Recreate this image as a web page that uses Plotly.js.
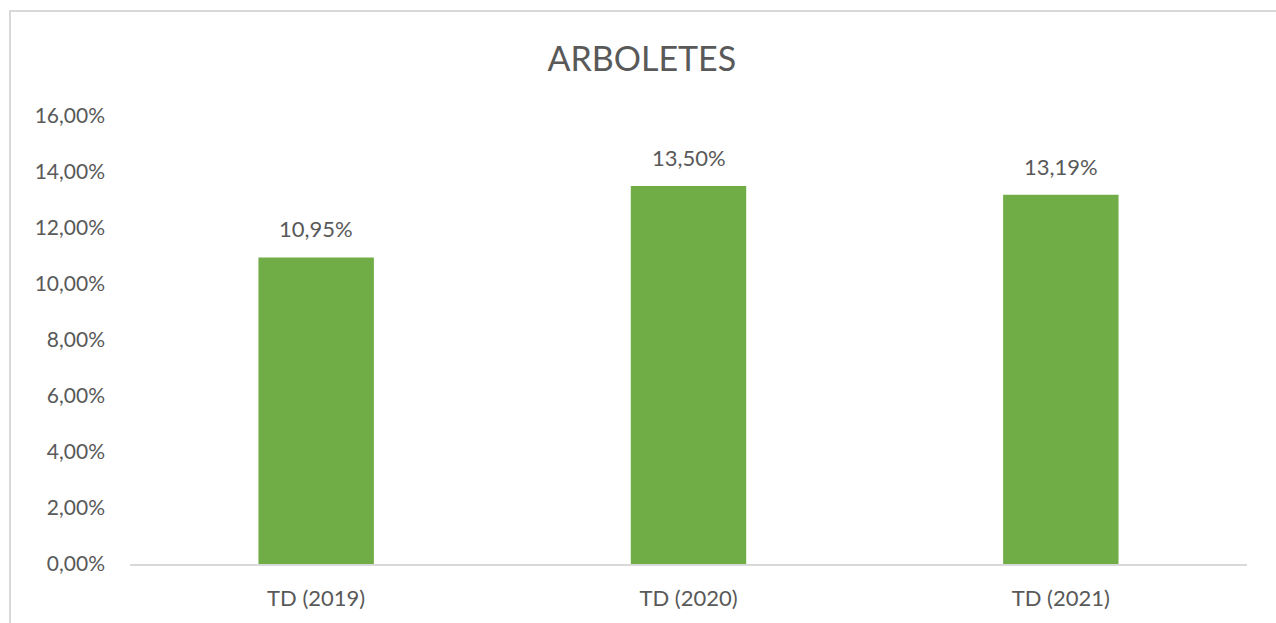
<!DOCTYPE html>
<html>
<head>
<meta charset="utf-8">
<script src="https://cdn.plot.ly/plotly-3.0.1.min.js"></script>
<style>
  html, body { margin: 0; padding: 0; background: #fff; }
  #wrap { position: relative; width: 1276px; height: 623px; overflow: hidden; }
  #chart { position: absolute; left: 0; top: 0; width: 1276px; height: 623px; }
  #frame { position: absolute; left: 9px; top: 10px; width: 1280px; height: 640px;
           border-top: 2px solid #d9d9d9; border-left: 2px solid #d9d9d9; pointer-events: none; }
</style>
</head>
<body>
<div id="wrap">
  <div id="chart"></div>
  <div id="frame"></div>
</div>
<script>
const chartTitle = "ARBOLETES";
const categories = ["TD (2019)", "TD (2020)", "TD (2021)"];
const values = [0.1095, 0.1350, 0.1319];
const yTickValues = [0, 0.02, 0.04, 0.06, 0.08, 0.10, 0.12, 0.14, 0.16];

const FONT = "Lato, 'Open Sans', 'DejaVu Sans', sans-serif";
const TEXT = "#595959";

const trace = {
  type: "bar",
  x: categories,
  y: values,
  marker: { color: "#70AD47" },
  width: 0.31,
  hoverinfo: "skip"
};

function fmtPct(v) {
  return (v * 100).toFixed(2).replace(".", ",") + "%";
}

const labels = categories.map((c, i) => ({
  x: c,
  y: values[i],
  xref: "x",
  yref: "y",
  text: fmtPct(values[i]),
  showarrow: false,
  yanchor: "bottom",
  yshift: 13,
  font: { family: FONT, size: 22, color: TEXT }
}));

const layout = {
  width: 1276,
  height: 623,
  separators: ",.",
  margin: { l: 130, r: 29, t: 116, b: 59 },
  paper_bgcolor: "#ffffff",
  plot_bgcolor: "#ffffff",
  showlegend: false,
  title: {
    text: chartTitle,
    font: { family: FONT, size: 34, color: TEXT },
    x: 0.503, xanchor: "center",
    y: 0.905, yanchor: "middle"
  },
  xaxis: {
    type: "category",
    showgrid: false,
    showline: true,
    linecolor: "#d9d9d9",
    linewidth: 2,
    ticks: "",
    tickfont: { family: FONT, size: 22, color: TEXT },
    ticklabelstandoff: 14,
    zeroline: false
  },
  yaxis: {
    range: [0, 0.16],
    tickvals: yTickValues,
    tickformat: ".2%",
    showgrid: false,
    showline: false,
    zeroline: false,
    ticks: "",
    tickfont: { family: FONT, size: 21, color: TEXT },
    ticklabelstandoff: 24
  },
  annotations: labels,
  bargap: 0.69
};

Plotly.newPlot("chart", [trace], layout, { displayModeBar: false, staticPlot: true });
</script>
</body>
</html>
